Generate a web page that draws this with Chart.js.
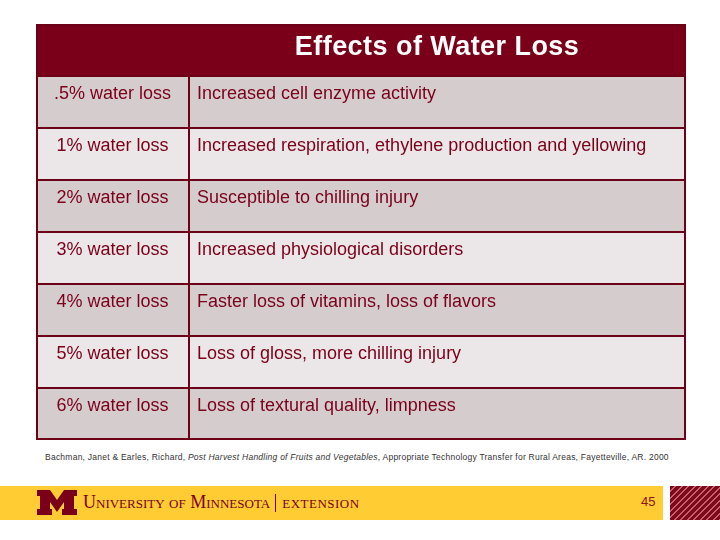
<!DOCTYPE html>
<html>
<head>
<meta charset="utf-8">
<script src="https://cdn.jsdelivr.net/npm/chart.js@4.4.1/dist/chart.umd.min.js"></script>
<style>
    html, body { margin: 0; padding: 0; background: #fff; }
    body { width: 720px; height: 540px; position: relative; overflow: hidden; font-family: "Liberation Sans", Arial, sans-serif; }
    #tabla { position: absolute; left: 36px; top: 24px; width: 650px; height: 416px; }
    #cita { position: absolute; left: 45px; top: 452px; font-size: 8.5px; color: #333; white-space: nowrap; }
    #franja { position: absolute; left: 0; top: 486px; width: 663px; height: 34px; background: #ffcc33; }
    #rayas { position: absolute; left: 670px; top: 486px; width: 50px; height: 34px;
        background: repeating-linear-gradient(135deg, #7d0a1c 0 3.2px, #c9606b 3.2px 4.6px); }
    #logo { position: absolute; left: 37px; top: 490px; width: 40px; height: 25px; }
    #marca { position: absolute; left: 83px; top: 492px; font-family: "Liberation Serif", "Times New Roman", serif;
        color: #7a0019; white-space: nowrap; line-height: 20px; }
    #marca .sc { font-size: 18px; font-variant: small-caps; }
    #marca .sep { display: inline-block; width: 1px; height: 18px; background: #7a0019; vertical-align: -4px; margin: 0 6px 0 5px; }
    #marca .ext { font-size: 13px; letter-spacing: 0.5px; }
    #pagina { position: absolute; left: 641px; top: 494px; font-size: 13px; color: #8a1420; }
</style>
</head>
<body>
<div id="tabla"><canvas id="efectosPerdidaAgua"></canvas></div>
<div id="cita">Bachman, Janet &amp; Earles, Richard, <i>Post Harvest Handling of Fruits and Vegetables</i>, Appropriate Technology Transfer for Rural Areas, Fayetteville, AR. 2000</div>
<div id="franja"></div>
<div id="rayas"></div>
<svg id="logo" viewBox="0 0 40 25">
    <polygon fill="#7a0019" points="0,0 13,0 20,10 27,0 40,0 40,6 37,6 37,19 40,19 40,25 25,25 25,19 27,19 27,12 20,22 13,12 13,19 15,19 15,25 0,25 0,19 3,19 3,6 0,6"/>
</svg>
<div id="marca"><span class="sc">University of Minnesota</span><span class="sep"></span><span class="ext">EXTENSION</span></div>
<div id="pagina">45</div>
<script>
const tituloTabla = "Effects of Water Loss";
const perdidaAgua = [
    ".5% water loss",
    "1% water loss",
    "2% water loss",
    "3% water loss",
    "4% water loss",
    "5% water loss",
    "6% water loss",
];
const efectos = [
    "Increased cell enzyme activity",
    "Increased respiration, ethylene production and yellowing",
    "Susceptible to chilling injury",
    "Increased physiological disorders",
    "Faster loss of vitamins, loss of flavors",
    "Loss of gloss, more chilling injury",
    "Loss of textural quality, limpness",
];

const colorGranate = "#7a0019";
const colorLinea = "#6c0016";
const colorFilaOscura = "#d5cccd";
const colorFilaClara = "#ebe6e7";
const fuente = "'Liberation Sans', Arial, sans-serif";

// corte entre columnas y centro del titulo, en fraccion del ancho de la tabla
const corte = 0.2354;
const centroTitulo = 0.617;

const filas = [tituloTabla, ...perdidaAgua];
const ultima = filas.length - 1;

function bordes(columna) {
    return function (context) {
        const i = context.dataIndex;
        return {
            top: i === 0 ? 2 : 1,
            bottom: i === ultima ? 2 : 1,
            left: columna === 1 ? 1 : 2,
            right: columna === 0 ? 1 : 2,
        };
    };
}

function relleno(context) {
    return context.dataIndex % 2 === 1 ? colorFilaOscura : colorFilaClara;
}

const textoCeldas = {
    id: "textoCeldas",
    afterDatasetsDraw(chart) {
        const ctx = chart.ctx;
        const x = chart.scales.x;
        const cabecera = chart.getDatasetMeta(0).data[0];
        const filasMeta = chart.getDatasetMeta(1).data;
        ctx.save();
        ctx.textBaseline = "alphabetic";

        ctx.fillStyle = "#fff";
        ctx.font = "bold 27px " + fuente;
        ctx.letterSpacing = "0.45px";
        ctx.textAlign = "center";
        ctx.fillText(tituloTabla, x.getPixelForValue(centroTitulo), cabecera.y - cabecera.height / 2 + 31);
        ctx.letterSpacing = "0px";

        ctx.fillStyle = colorGranate;
        ctx.font = "18px " + fuente;
        const centroCol1 = (x.getPixelForValue(0) + x.getPixelForValue(corte)) / 2;
        const inicioCol2 = x.getPixelForValue(corte) + 8;
        perdidaAgua.forEach((texto, i) => {
            const barra = filasMeta[i + 1];
            const base = barra.y - barra.height / 2 + 22.5;
            ctx.textAlign = "center";
            ctx.fillText(texto, centroCol1, base);
            ctx.textAlign = "left";
            ctx.fillText(efectos[i], inicioCol2, base);
        });
        ctx.restore();
    },
};

new Chart(document.getElementById("efectosPerdidaAgua"), {
    type: "bar",
    data: {
        labels: filas,
        datasets: [
            {
                label: "Cabecera",
                data: filas.map((f, i) => (i === 0 ? [0, 1] : null)),
                backgroundColor: colorGranate,
                borderColor: colorLinea,
                borderWidth: bordes(2),
            },
            {
                label: "Pérdida de agua",
                data: filas.map((f, i) => (i === 0 ? null : [0, corte])),
                backgroundColor: relleno,
                borderColor: colorLinea,
                borderWidth: bordes(0),
            },
            {
                label: "Efecto",
                data: filas.map((f, i) => (i === 0 ? null : [corte, 1])),
                backgroundColor: relleno,
                borderColor: colorLinea,
                borderWidth: bordes(1),
            },
        ],
    },
    options: {
        indexAxis: "y",
        responsive: true,
        maintainAspectRatio: false,
        animation: false,
        datasets: {
            bar: {
                grouped: false,
                barPercentage: 1,
                categoryPercentage: 1,
                borderSkipped: false,
                inflateAmount: 0,
            },
        },
        layout: { padding: 0 },
        scales: {
            x: { type: "linear", min: 0, max: 1, display: false },
            y: { type: "category", display: false },
        },
        plugins: {
            legend: { display: false },
            tooltip: { enabled: false },
        },
    },
    plugins: [textoCeldas],
});

// estirar la cita al ancho que ocupa en la diapositiva
const cita = document.getElementById("cita");
const anchoCita = 624;
const sobra = anchoCita - cita.scrollWidth;
cita.style.letterSpacing = (sobra / cita.textContent.length).toFixed(3) + "px";
</script>
</body>
</html>
